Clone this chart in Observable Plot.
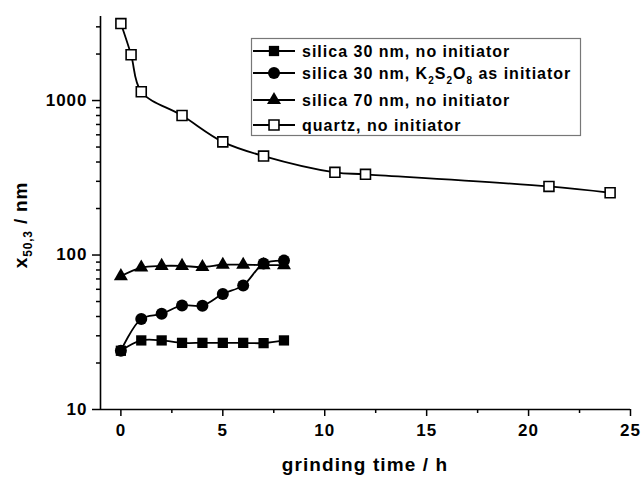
<!DOCTYPE html>
<html>
<head>
<meta charset="utf-8">
<script src="https://cdn.jsdelivr.net/npm/d3@7"></script>
<script src="https://cdn.jsdelivr.net/npm/@observablehq/plot@0.6"></script>
<style>
  html, body { margin: 0; padding: 0; background: white; }
  #chart svg { display: block; }
  #chart g[aria-label="x-axis tick label"] text,
  #chart g[aria-label="y-axis tick label"] text { letter-spacing: 1px; }
</style>
</head>
<body>
<div id="chart"></div>
<script>
// Grinding time (h) for the silica series
const hours = [0, 1, 2, 3, 4, 5, 6, 7, 8];
// Median particle size x50,3 (nm)
const silica30 = [24, 28, 28, 27, 27, 27, 27, 26.9, 28];
const silica30K = [24, 38.6, 41.6, 47.2, 47, 56, 63.6, 88, 92];
const silica70 = [73, 83, 85, 85, 83.6, 86.5, 86.5, 86, 86];
// Quartz series has its own sampling times
const quartzHours = [0, 0.5, 1, 3, 5, 7, 10.5, 12, 21, 24];
const quartz = [3150, 1980, 1140, 800, 540, 437, 343, 333, 278, 253];

const seriesNames = [
  "silica 30 nm, no initiator",
  "silica 30 nm, K2S2O8 as initiator",
  "silica 70 nm, no initiator",
  "quartz, no initiator"
];

const xTicks = [0, 5, 10, 15, 20, 25];
const xMinor = [2.5, 7.5, 12.5, 17.5, 22.5];
const yTicks = [10, 100, 1000];
const yMinor = [20, 30, 40, 50, 60, 70, 80, 90, 200, 300, 400, 500, 600, 700, 800, 900, 2000, 3000];

const rowsOf = (xs, ys) => xs.map((x, i) => ({x, y: ys[i]}));
const s30 = rowsOf(hours, silica30);
const s30K = rowsOf(hours, silica30K);
const s70 = rowsOf(hours, silica70);
const qz = rowsOf(quartzHours, quartz);

const curve = "catmull-rom";
const lineOpts = {x: "x", y: "y", curve, stroke: "black", strokeWidth: 1.8};

const plot = Plot.plot({
  width: 642,
  height: 479,
  marginLeft: 100,
  marginRight: 12,
  marginTop: 16,
  marginBottom: 70,
  style: {
    fontFamily: "'Liberation Sans', Arial, sans-serif",
    fontWeight: "bold",
    fontSize: "17px",
    background: "white",
    color: "black"
  },
  x: {domain: [-1, 25]},
  y: {type: "log", domain: [10, 3500]},
  marks: [
    Plot.axisX({ticks: xTicks, tickSize: 7, tickPadding: 7, tickFormat: d => String(d), label: null, strokeWidth: 1.5}),
    Plot.axisX({ticks: xMinor, tickSize: 4, tickFormat: () => "", label: null, strokeWidth: 1.5}),
    Plot.axisY({ticks: yTicks, tickSize: 8, tickPadding: 5, tickFormat: d => String(d), label: null, strokeWidth: 1.5}),
    Plot.axisY({ticks: yMinor, tickSize: 4, tickFormat: () => "", label: null, strokeWidth: 1.5}),
    Plot.ruleX([-1], {stroke: "black", strokeWidth: 1.6}),
    Plot.ruleY([10], {stroke: "black", strokeWidth: 1.6}),

    Plot.line(qz, lineOpts),
    Plot.line(s70, lineOpts),
    Plot.line(s30K, lineOpts),
    Plot.line(s30, lineOpts),

    Plot.dot(qz, {x: "x", y: "y", symbol: "square", r: 5.6, fill: "white", stroke: "black", strokeWidth: 1.6}),
    Plot.dot(s70, {x: "x", y: "y", symbol: "triangle", r: 5.2, fill: "black"}),
    Plot.dot(s30K, {x: "x", y: "y", symbol: "circle", r: 6, fill: "black"}),
    Plot.dot(s30, {x: "x", y: "y", symbol: "square", r: 5.8, fill: "black"})
  ]
});

document.getElementById("chart").appendChild(plot);

const svg = d3.select(plot);
const font = "'Liberation Sans', Arial, sans-serif";

// Axis titles
svg.append("text")
  .attr("x", 365).attr("y", 471)
  .attr("text-anchor", "middle")
  .attr("font-family", font).attr("font-weight", "bold")
  .attr("font-size", 19).attr("letter-spacing", 1.1)
  .attr("fill", "black")
  .text("grinding time / h");

const yTitle = svg.append("text")
  .attr("transform", "translate(27,225) rotate(-90)")
  .attr("text-anchor", "middle")
  .attr("font-family", font).attr("font-weight", "bold")
  .attr("font-size", 19).attr("letter-spacing", 0.8)
  .attr("fill", "black");
yTitle.append("tspan").text("x");
yTitle.append("tspan").attr("font-size", 12).attr("dy", 5).text("50,3");
yTitle.append("tspan").attr("dy", -5).text(" / nm");

// Legend
const legend = svg.append("g")
  .attr("font-family", font).attr("font-weight", "bold")
  .attr("text-anchor", "start");
legend.append("rect")
  .attr("x", 251.5).attr("y", 38.5).attr("width", 329).attr("height", 97)
  .attr("fill", "white").attr("stroke", "#777").attr("stroke-width", 1.2);

const entryY = [51, 73, 100, 125];
const entrySymbols = [
  {type: d3.symbolSquare, r: 5.8, fill: "black", stroke: "none"},
  {type: d3.symbolCircle, r: 6, fill: "black", stroke: "none"},
  {type: d3.symbolTriangle, r: 5.2, fill: "black", stroke: "none"},
  {type: d3.symbolSquare, r: 5.6, fill: "white", stroke: "black"}
];

seriesNames.forEach((name, i) => {
  const y = entryY[i];
  const g = legend.append("g");
  g.append("line")
    .attr("x1", 253).attr("x2", 295).attr("y1", y).attr("y2", y)
    .attr("stroke", "black").attr("stroke-width", 1.8);
  const s = entrySymbols[i];
  g.append("path")
    .attr("transform", `translate(274,${y})`)
    .attr("d", d3.symbol(s.type, s.r * s.r * Math.PI)())
    .attr("fill", s.fill).attr("stroke", s.stroke).attr("stroke-width", 1.6);
  const t = g.append("text")
    .attr("x", 302).attr("y", y + 6)
    .attr("text-anchor", "start")
    .attr("font-size", 16).attr("letter-spacing", 1)
    .attr("fill", "black");
  const m = name.match(/^(.*)K2S2O8(.*)$/);
  if (m) {
    t.append("tspan").text(m[1] + "K");
    t.append("tspan").attr("font-size", 10).attr("dy", 5).text("2");
    t.append("tspan").attr("dy", -5).text("S");
    t.append("tspan").attr("font-size", 10).attr("dy", 5).text("2");
    t.append("tspan").attr("dy", -5).text("O");
    t.append("tspan").attr("font-size", 10).attr("dy", 5).text("8");
    t.append("tspan").attr("dy", -5).text(m[2]);
  } else {
    t.text(name);
  }
});
</script>
</body>
</html>
